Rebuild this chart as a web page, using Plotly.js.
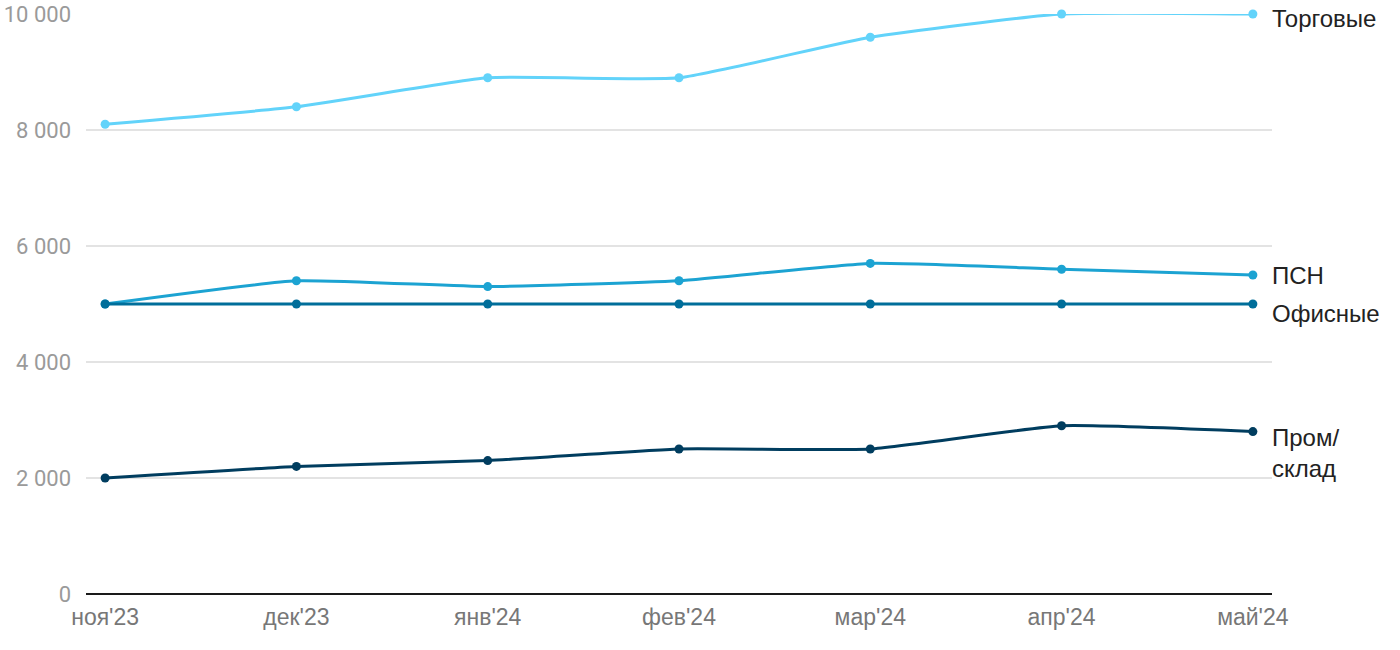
<!DOCTYPE html>
<html>
<head>
<meta charset="utf-8">
<script src="https://cdn.plot.ly/plotly-3.0.1.min.js"></script>
<style>html,body{margin:0;padding:0;background:#fff}#chart{width:1400px;height:650px}</style>
</head>
<body>
<div id="chart"></div>
<script>
const categories = ["ноя'23", "дек'23", "янв'24", "фев'24", "мар'24", "апр'24", "май'24"];
const torgovye = [8100, 8400, 8900, 8900, 9600, 10000, 10000];
const psn = [5000, 5400, 5300, 5400, 5700, 5600, 5500];
const ofisnye = [5000, 5000, 5000, 5000, 5000, 5000, 5000];
const promsklad = [2000, 2200, 2300, 2500, 2500, 2900, 2800];
const seriesNames = ["Торговые", "ПСН", "Офисные", "Пром/<br>склад"];
const yTickVals = [0, 2000, 4000, 6000, 8000, 10000];
const yTickText = ["0", "2 000", "4 000", "6 000", "8 000", "10 000"];

const colors = ["#62d3fa", "#1ca3d2", "#006e9a", "#003d5f"];
const data = [torgovye, psn, ofisnye, promsklad];
const xs = categories.map((c, i) => i);
const traces = data.map((vals, k) => ({
  x: xs, y: vals, type: 'scatter', mode: 'lines+markers',
  line: {color: colors[k], width: 3, shape: 'spline', smoothing: 0.45},
  marker: {color: colors[k], size: 9},
  cliponaxis: false, hoverinfo: 'skip', showlegend: false
}));
const last = categories.length - 1;
const yshifts = [-4, 0, -9, -21];
const annotations = data.map((vals, k) => ({
  xref: 'paper', x: 1, xanchor: 'left', xshift: -2,
  yref: 'y', y: vals[last], yanchor: 'middle', yshift: yshifts[k],
  text: seriesNames[k], showarrow: false, align: 'left',
  font: {family: 'Liberation Sans, Arial, sans-serif', size: 24, color: '#222'}
}));
const layout = {
  width: 1400, height: 650,
  margin: {l: 86, r: 128, t: 14, b: 56},
  paper_bgcolor: '#fff', plot_bgcolor: '#fff',
  showlegend: false,
  xaxis: {
    range: [-0.1, 6.1], tickvals: xs, ticktext: categories,
    showgrid: false, zeroline: false, showline: false, ticks: '',
    ticklabelstandoff: 7,
    tickfont: {family: 'Liberation Sans, Arial, sans-serif', size: 23, color: '#777'}
  },
  yaxis: {
    range: [0, 10000], tickvals: yTickVals, ticktext: yTickText,
    showgrid: true, gridcolor: '#e3e3e3', gridwidth: 1.5,
    zeroline: true, zerolinecolor: '#1a1a1a', zerolinewidth: 2,
    showline: false, ticks: '', ticklabelstandoff: 14,
    tickfont: {family: 'Roboto, sans-serif', size: 22, color: '#9a9a9a'}
  },
  annotations: annotations
};
Plotly.newPlot('chart', traces, layout, {staticPlot: true});
</script>
</body>
</html>
